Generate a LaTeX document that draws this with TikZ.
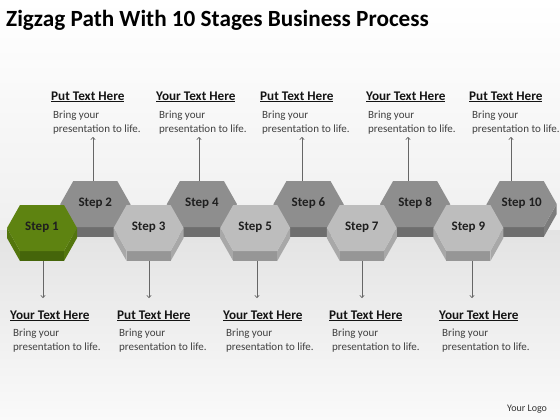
\documentclass[tikz,border=0pt]{standalone}
\usepackage{fontspec}
\setmainfont{Carlito}
\usetikzlibrary{arrows.meta}
\definecolor{gtop}{HTML}{5E8311}
\definecolor{gfront}{HTML}{45650A}
\definecolor{gside}{HTML}{53760D}
\definecolor{utop}{HTML}{8E8E8E}
\definecolor{ufront}{HTML}{6E6E6E}
\definecolor{uside}{HTML}{7C7C7C}
\definecolor{ltop}{HTML}{BDBDBD}
\definecolor{lfront}{HTML}{969696}
\definecolor{lside}{HTML}{A8A8A8}
\newcommand\hexat[5]{%
  \fill[#5] (#1-35,#2) -- (#1-22,#2+23) -- (#1-22,#2+33) -- (#1-35,#2+10) -- cycle;
  \fill[#5] (#1+35,#2) -- (#1+22,#2+23) -- (#1+22,#2+33) -- (#1+35,#2+10) -- cycle;
  \fill[#4] (#1-22,#2+23) rectangle (#1+22,#2+33);
  \fill[#3] (#1-35,#2) -- (#1-22,#2-23) -- (#1+22,#2-23) -- (#1+35,#2) -- (#1+22,#2+23) -- (#1-22,#2+23) -- cycle;
}
\begin{document}
\begin{tikzpicture}[x=1pt,y=-1pt,
  steplabel/.style={font=\fontsize{13}{14}\selectfont\bfseries, text=black!88, inner sep=0pt},
  head/.style={font=\fontsize{13.2}{15}\selectfont\bfseries, text=black!92, anchor=base west, inner sep=0pt},
  bodytext/.style={font=\fontsize{11}{14}\selectfont, text=black!75, anchor=north west, inner sep=0pt, align=left},
  conn/.style={draw=black!60, line width=0.6pt},
  uparrow/.style={conn, -{To[length=3pt,width=5pt]}},
]
\useasboundingbox (0,0) rectangle (560,420);
% background
\fill[top color=white, bottom color=black!6] (0,0) rectangle (560,230);
\fill[top color=black!11, bottom color=black!2] (0,230) rectangle (560,420);

% title
\node[anchor=base west, inner sep=0pt, font=\fontsize{23.2}{26}\selectfont\bfseries, text=black] (title) at (6,27) {Zigzag Path With 10 Stages Business Process};

% upper row hexes
\foreach \k in {2,4,6,8,10}{
  \pgfmathsetmacro\cx{42+53.3*(\k-1)}
  \hexat{\cx}{204}{utop}{ufront}{uside}
  \node[steplabel] (s\k) at (\cx,203) {Step \k};
}
% lower row hexes
\hexat{42}{228}{gtop}{gfront}{gside}
\node[steplabel] (s1) at (42,227) {Step 1};
\foreach \k in {3,5,7,9}{
  \pgfmathsetmacro\cx{42+53.3*(\k-1)}
  \hexat{\cx}{228}{ltop}{lfront}{lside}
  \node[steplabel] (s\k) at (\cx,227) {Step \k};
}

% top texts
\foreach \i/\hx/\bx/\ax/\w in {2/51/53/93/Put, 4/156/159/199/Your, 6/260/262/302/Put, 8/366/368/408/Your, 10/469/472/511/Put}{
  \node[head] (h\i) at (\hx,100) {\underline{\w{} Text Here}};
  \node[bodytext] (b\i) at (\bx,110.5) {Bring your\\presentation to life.};
  \coordinate (p\i) at (\ax,181);
  \coordinate (q\i) at (\ax,137);
  \draw[uparrow] (p\i) -- (q\i);
}
% bottom texts
\foreach \i/\hx/\bx/\ax/\w in {1/10/13/43/Your, 3/117/119/149/Put, 5/223/226/257/Your, 7/329/332/362/Put, 9/439/442/472/Your}{
  \node[head] (h\i) at (\hx,319) {\underline{\w{} Text Here}};
  \node[bodytext] (b\i) at (\bx,328.5) {Bring your\\presentation to life.};
  \coordinate (p\i) at (\ax,261);
  \coordinate (q\i) at (\ax,298);
  \draw[uparrow] (p\i) -- (q\i);
}

\node[anchor=base west, inner sep=0pt, font=\fontsize{10}{12}\selectfont, text=black!80] (logo) at (507,411) {Your Logo};
\end{tikzpicture}
\end{document}
